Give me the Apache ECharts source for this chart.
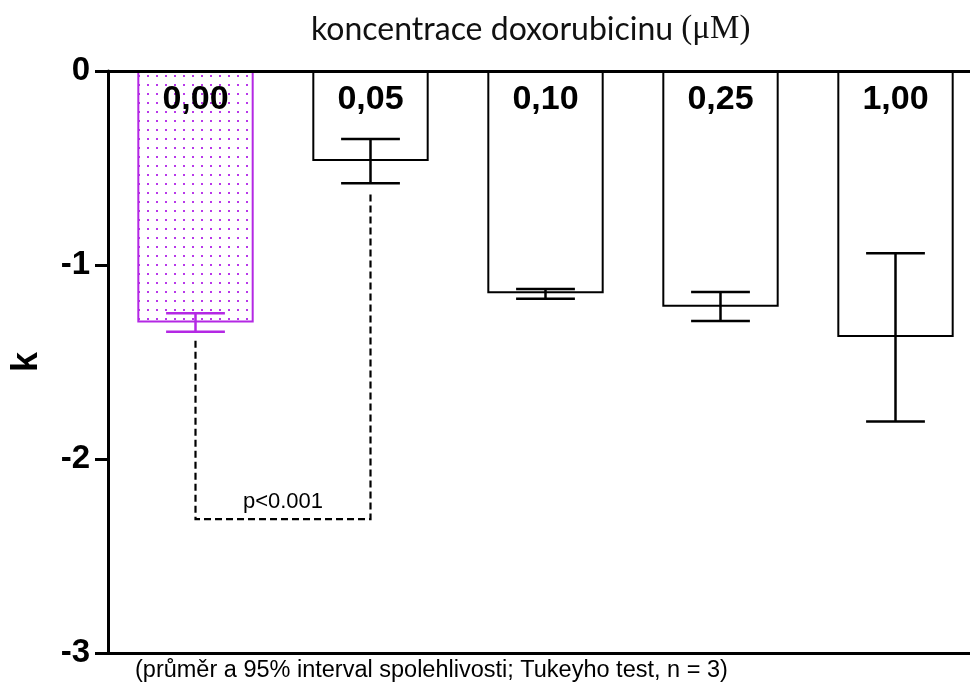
<!DOCTYPE html>
<html>
<head>
<meta charset="utf-8">
<script src="https://cdn.jsdelivr.net/npm/echarts@6/dist/echarts.min.js"></script>
<style>
  html, body { margin: 0; padding: 0; background: #fff; }
  #chart { width: 970px; height: 684px; }
</style>
</head>
<body>
<div id="chart"></div>
<script>
// Doxorubicin concentrations (µM) and the growth-rate constant k
const categories = ['0,00', '0,05', '0,10', '0,25', '1,00'];
const meanK   = [-1.297, -0.464, -1.146, -1.215, -1.371];
const ciUpper = [-1.249, -0.351, -1.124, -1.139, -0.940];
const ciLower = [-1.344, -0.579, -1.174, -1.289, -1.807];
const yMin = -3, yMax = 0, yStep = 1;

// Significance bracket between control and 0,05 µM
const bracketFrom = 0, bracketTo = 1;
const bracketFromStart = -1.39, bracketToStart = -0.62, bracketLevel = -2.31;
const bracketText = 'p<0.001';

const purple = '#b428e4';

// dotted fill for the control bar
function dotPattern() {
  const c = document.createElement('canvas');
  c.width = 9; c.height = 9;
  const g = c.getContext('2d');
  g.fillStyle = '#ffffff';
  g.fillRect(0, 0, 9, 9);
  g.fillStyle = '#b838ea';
  g.fillRect(3, 3, 2, 2);
  return c;
}

const chart = echarts.init(document.getElementById('chart'));

const barData = meanK.map((v, i) => ({
  value: v,
  itemStyle: i === 0
    ? { color: { image: dotPattern(), repeat: 'repeat' }, borderColor: purple, borderWidth: 2 }
    : { color: '#ffffff', borderColor: '#000', borderWidth: 2 }
}));

const errData = meanK.map((v, i) => [i, ciLower[i], ciUpper[i]]);

chart.setOption({
  animation: false,
  backgroundColor: '#ffffff',
  title: [{
    text: '{a|koncentrace doxorubicinu }{b|(μM)}',
    left: 306, top: 8,
    textStyle: {
      fontWeight: 'normal',
      rich: {
        a: { fontFamily: 'Lato', fontSize: 32, fontWeight: 'normal', color: '#111' },
        b: { fontFamily: 'Liberation Serif', fontSize: 33, fontWeight: 'normal', color: '#111' }
      }
    }
  }, {
    text: '(průměr a 95% interval spolehlivosti; Tukeyho test, n = 3)',
    left: 130, top: 654,
    textStyle: { fontFamily: 'Liberation Sans', fontSize: 23.5, fontWeight: 'normal', color: '#000' }
  }],
  grid: { left: 108, top: 71, width: 875, height: 582, containLabel: false, outerBoundsMode: 'none' },
  xAxis: [{
    type: 'category',
    data: categories,
    position: 'top',
    axisLine: { show: true, lineStyle: { color: '#000', width: 3 } },
    axisTick: { show: false },
    axisLabel: {
      inside: true, margin: 12,
      fontFamily: 'Liberation Sans', fontSize: 34, fontWeight: 'bold', color: '#000'
    },
    z: 5
  }, {
    type: 'category',
    data: categories,
    position: 'bottom',
    axisLine: { show: true, lineStyle: { color: '#000', width: 3 } },
    axisTick: { show: false },
    axisLabel: { show: false }
  }],
  yAxis: {
    type: 'value',
    min: yMin, max: yMax, interval: yStep,
    name: 'k',
    nameLocation: 'middle',
    nameRotate: 90,
    nameGap: 63,
    nameTextStyle: { fontFamily: 'Liberation Sans', fontSize: 36, fontWeight: 'bold', color: '#000' },
    axisLine: { show: true, lineStyle: { color: '#000', width: 3 } },
    axisTick: { show: true, length: 13, lineStyle: { color: '#000', width: 3 } },
    axisLabel: {
      margin: 18,
      fontFamily: 'Liberation Sans', fontSize: 33, fontWeight: 'bold', color: '#000'
    },
    splitLine: { show: false }
  },
  series: [{
    type: 'bar',
    data: barData,
    barWidth: '66.5%',
    z: 2
  }, {
    type: 'custom',
    data: errData,
    z: 4,
    renderItem: function (params, api) {
      const i = api.value(0);
      const lo = api.coord([i, api.value(1)]);
      const hi = api.coord([i, api.value(2)]);
      const half = api.size([1, 0])[0] * 0.168;
      const col = i === 0 ? purple : '#000';
      const st = { stroke: col, lineWidth: 2.5 };
      return {
        type: 'group',
        children: [
          { type: 'line', shape: { x1: lo[0], y1: lo[1], x2: hi[0], y2: hi[1] }, style: st },
          { type: 'line', shape: { x1: lo[0] - half, y1: lo[1], x2: lo[0] + half, y2: lo[1] }, style: st },
          { type: 'line', shape: { x1: hi[0] - half, y1: hi[1], x2: hi[0] + half, y2: hi[1] }, style: st }
        ]
      };
    }
  }, {
    type: 'custom',
    data: [[bracketFrom, bracketTo, bracketFromStart, bracketToStart, bracketLevel]],
    z: 3,
    renderItem: function (params, api) {
      const a0 = api.coord([api.value(0), api.value(2)]);
      const a1 = api.coord([api.value(0), api.value(4)]);
      const b1 = api.coord([api.value(1), api.value(4)]);
      const b0 = api.coord([api.value(1), api.value(3)]);
      return {
        type: 'group',
        children: [{
          type: 'polyline',
          shape: { points: [a0, a1, b1, b0] },
          style: { stroke: '#000', lineWidth: 2.2, lineDash: [7, 4], fill: null }
        }, {
          type: 'text',
          style: {
            text: bracketText,
            x: (a1[0] + b1[0]) / 2, y: a1[1] - 6,
            align: 'center', verticalAlign: 'bottom',
            fontFamily: 'Liberation Sans', fontSize: 22, fill: '#000'
          }
        }]
      };
    }
  }]
});
</script>
</body>
</html>
